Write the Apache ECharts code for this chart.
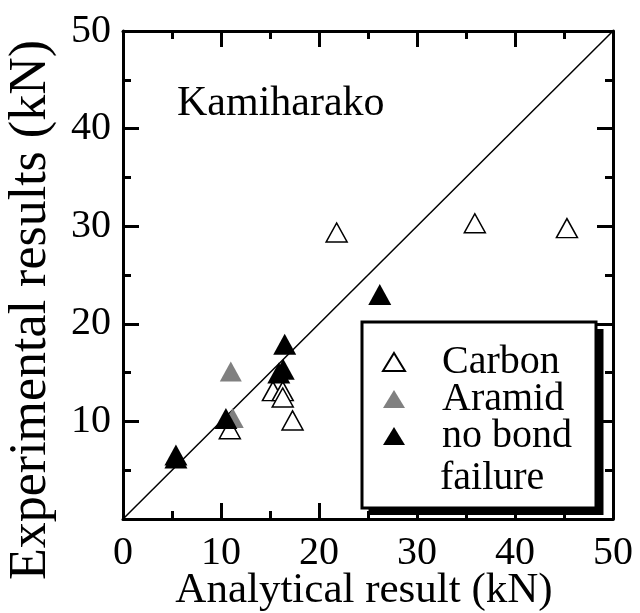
<!DOCTYPE html>
<html>
<head>
<meta charset="utf-8">
<script src="https://cdn.jsdelivr.net/npm/echarts@6/dist/echarts.min.js"></script>
<style>html,body{margin:0;padding:0;background:#fff}#c{width:640px;height:613px}</style>
</head>
<body>
<div id="c"></div>
<script>
// Data (x = analytical result kN, y = experimental result kN)
const carbon = [[10.9, 9.2], [15.3, 13.1], [16.3, 13.1], [16.3, 12.45], [17.3, 10.1], [21.8, 29.35], [35.9, 30.3], [45.3, 29.8]];
const aramid = [[11.0, 15.1], [11.2, 10.35]];
const noBond = [[5.4, 6.55], [5.4, 6.25], [10.5, 10.3], [16.5, 17.9], [15.9, 14.95], [16.35, 15.35], [26.2, 23.0]];
const equalityLine = [[0, 0], [50, 50]];
const axisMin = 0, axisMax = 50, axisStep = 10;
const xTitle = 'Analytical result (kN)';
const yTitle = 'Experimental results (kN)';
const panelLabel = 'Kamiharako';
const legendNames = ['Carbon', 'Aramid', 'no bond failure'];

const FONT = 'Liberation Serif';
const chart = echarts.init(document.getElementById('c'), null, {renderer: 'canvas'});

function axisBase(extra) {
  return Object.assign({
    type: 'value', min: axisMin, max: axisMax, interval: axisStep,
    splitLine: {show: false},
    axisLine: {show: true, onZero: false, lineStyle: {color: '#000', width: 3}},
    axisTick: {show: true, inside: true, length: 16, lineStyle: {color: '#000', width: 3}},
    minorTick: {show: true, splitNumber: 2, length: 8, lineStyle: {color: '#000', width: 3}},
    axisLabel: {show: false}
  }, extra);
}

chart.setOption({
  animation: false,
  backgroundColor: '#fff',
  grid: {left: 123, right: 27, top: 31, bottom: 94, containLabel: false, outerBoundsMode: 'none'},
  xAxis: [
    axisBase({position: 'bottom', name: xTitle, nameLocation: 'middle', nameGap: 50, nameMoveOverlap: false,
      nameTextStyle: {fontFamily: FONT, fontSize: 43, color: '#000', padding: [0, 8, 0, 0]},
      axisLabel: {show: true, margin: 14, fontFamily: FONT, fontSize: 40, color: '#000'}}),
    axisBase({position: 'top'})
  ],
  yAxis: [
    axisBase({position: 'left', name: yTitle, nameLocation: 'middle', nameGap: 66, nameMoveOverlap: false,
      nameTextStyle: {fontFamily: FONT, fontSize: 52, color: '#000', padding: [0, 70, 0, 0]},
      axisLabel: {show: true, margin: 12, showMinLabel: false, fontFamily: FONT, fontSize: 40, color: '#000'}}),
    axisBase({position: 'right'})
  ],
  legend: {
    orient: 'vertical', left: 382, top: 342,
    padding: 0,
    itemWidth: 22, itemHeight: 18, itemGap: -3,
    z: 20,
    data: legendNames,
    formatter: function (n) { return n === 'no bond failure' ? 'no bond' : n; },
    textStyle: {fontFamily: FONT, fontSize: 40, color: '#000', padding: [0, 0, 0, 32]}
  },
  graphic: [
    {type: 'rect', z: 10, silent: true,
      shape: {x: 368.5, y: 329, width: 235, height: 186},
      style: {fill: '#000'}},
    {type: 'rect', z: 11, silent: true,
      shape: {x: 362, y: 322, width: 234, height: 186},
      style: {fill: '#fff', stroke: '#000', lineWidth: 3}},
    {type: 'text', left: 177, top: 83, z: 30,
      style: {text: panelLabel, font: '42px "Liberation Serif"', fill: '#000'}},
    {type: 'text', left: 440, top: 458, z: 30,
      style: {text: 'failure', font: '40px "Liberation Serif"', fill: '#000'}}
  ],
  series: [
    {type: 'line', data: equalityLine, symbol: 'none', silent: true, z: 1,
      lineStyle: {color: '#000', width: 1.5}, legendHoverLink: false},
    {name: 'Carbon', type: 'scatter', data: carbon, symbol: 'triangle', symbolSize: [21, 19], z: 2,
      itemStyle: {color: '#fff', borderColor: '#000', borderWidth: 1.5, opacity: 1}},
    {name: 'Aramid', type: 'scatter', data: aramid, symbol: 'triangle', symbolSize: [22, 20], z: 3,
      itemStyle: {color: '#808080', opacity: 1}},
    {name: 'no bond failure', type: 'scatter', data: noBond, symbol: 'triangle', symbolSize: [23, 21], z: 4,
      itemStyle: {color: '#000', opacity: 1}}
  ]
});
</script>
</body>
</html>
